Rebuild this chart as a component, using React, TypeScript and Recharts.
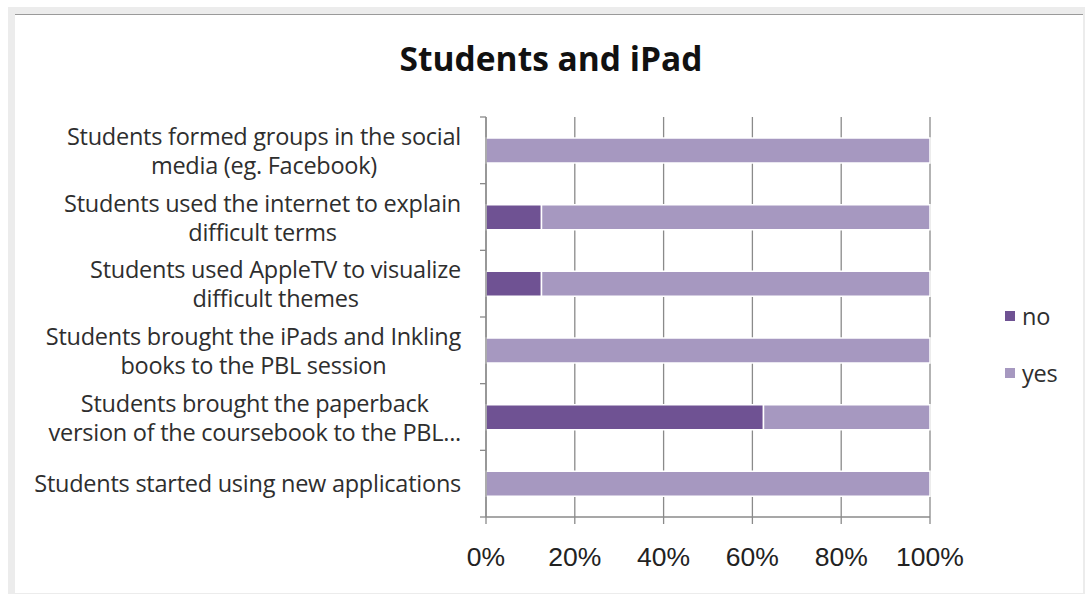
import { BarChart, Bar, XAxis, YAxis, CartesianGrid, Legend } from "recharts";

const CATEGORIES = [
  "Students formed groups in the social\nmedia (eg. Facebook)",
  "Students used the internet to explain\ndifficult terms",
  "Students used AppleTV to visualize\ndifficult themes",
  "Students brought the iPads and Inkling\nbooks to the PBL session",
  "Students brought the paperback\nversion of the coursebook to the PBL...",
  "Students started using new applications",
];
const NO_VALUES = [0, 12.5, 12.5, 0, 62.5, 0];
const YES_VALUES = [100, 87.5, 87.5, 100, 37.5, 100];
const X_TICKS = [0, 20, 40, 60, 80, 100];

const NO_COLOR = "#6f5293";
const YES_COLOR = "#a698c0";
const AXIS_COLOR = "#8a8a8a";
const LABEL_SIZE = 23.5;
const LABEL_SPACING = -0.25;
const LABEL_FONT = `${LABEL_SIZE}px 'Open Sans'`;

const W = 1085;
const H = 594;
const X_AXIS_H = 30;
const MARGIN = { top: 117, right: 155, bottom: 77 - X_AXIS_H, left: 16 };
const BAND = (H - 117 - 77) / CATEGORIES.length;

const data = CATEGORIES.map((name, i) => ({
  name,
  no: NO_VALUES[i],
  yes: YES_VALUES[i],
}));

let ctx: CanvasRenderingContext2D | null = null;
function textWidth(s: string) {
  if (!ctx) ctx = document.createElement("canvas").getContext("2d");
  if (!ctx) return s.length * 11;
  ctx.font = LABEL_FONT;
  return ctx.measureText(s).width + s.length * LABEL_SPACING;
}

function CategoryTick(props: any) {
  const { x, y, payload, index } = props;
  const lines = String(payload.value).split("\n");
  const w = Math.max(...lines.map((l) => textWidth(l)));
  const cx = x - 25 - w / 2;
  const lh = 29;
  const shift = lines.length === 1 ? 8 : 9;
  return (
    <g>
      <line x1={x - 6} x2={x} y1={y - BAND / 2} y2={y - BAND / 2} stroke={AXIS_COLOR} strokeWidth={1.3} />
      {index === CATEGORIES.length - 1 && (
        <line x1={x - 6} x2={x} y1={y + BAND / 2} y2={y + BAND / 2} stroke={AXIS_COLOR} strokeWidth={1.3} />
      )}
      {lines.map((l, i) => (
        <text
          key={i}
          x={cx}
          y={y + (i - (lines.length - 1) / 2) * lh + shift}
          textAnchor="middle"
          fill="#2e2e2e"
          style={{ font: LABEL_FONT, letterSpacing: LABEL_SPACING }}
        >
          {l}
        </text>
      ))}
    </g>
  );
}

function PercentTick(props: any) {
  const { x, y, payload } = props;
  return (
    <text
      x={x}
      y={y}
      dy={40}
      textAnchor="middle"
      fill="#222"
      style={{ fontFamily: "'Liberation Sans', Arial, sans-serif", fontSize: 26.5 }}
    >
      {payload.value}%
    </text>
  );
}

function LegendBox(props: any) {
  const items = props.payload || [];
  return (
    <div>
      {items.map((it: any) => (
        <div
          key={it.value}
          style={{
            display: "flex",
            alignItems: "center",
            height: 30,
            marginBottom: 27,
            fontFamily: "'Open Sans'",
            fontSize: LABEL_SIZE,
            letterSpacing: LABEL_SPACING,
            color: "#2e2e2e",
          }}
        >
          <span
            style={{
              display: "inline-block",
              width: 10,
              height: 10,
              background: it.color,
              marginRight: 7,
            }}
          />
          {it.value}
        </div>
      ))}
    </div>
  );
}

export default function App() {
  return (
    <div
      style={{
        position: "absolute",
        left: 0,
        top: 0,
        width: W,
        height: H,
        background: "#fff",
        overflow: "hidden",
      }}
    >
      <div
        style={{
          position: "absolute",
          left: 8,
          top: 7,
          width: W - 8,
          height: H - 7,
          background: "#ececec",
        }}
      />
      <div
        style={{
          position: "absolute",
          left: 15,
          top: 14,
          width: W - 17,
          height: H - 16,
          background: "#fff",
          borderTop: "1.5px solid #9a9a9a",
        }}
      />
      <div
        style={{
          position: "absolute",
          left: 0,
          top: 35,
          width: 1102,
          textAlign: "center",
          fontFamily: "'Open Sans'",
          fontWeight: 700,
          fontSize: 33.5,
          color: "#111",
        }}
      >
        Students and iPad
      </div>
      <div style={{ position: "absolute", left: 0, top: 0 }}>
        <BarChart width={W} height={H} data={data} layout="vertical" margin={MARGIN}>
          <CartesianGrid horizontal={false} stroke={AXIS_COLOR} strokeWidth={1.3} />
          <XAxis
            type="number"
            domain={[0, 100]}
            ticks={X_TICKS}
            interval={0}
            height={X_AXIS_H}
            tickSize={7}
            tickMargin={2}
            stroke={AXIS_COLOR}
            strokeWidth={1.3}
            tick={<PercentTick />}
          />
          <YAxis
            type="category"
            dataKey="name"
            width={470}
            tickSize={0}
            tickMargin={0}
            tickLine={false}
            stroke={AXIS_COLOR}
            strokeWidth={1.3}
            interval={0}
            tick={<CategoryTick />}
          />
          <Legend
            layout="horizontal"
            verticalAlign="middle"
            align="center"
            content={<LegendBox />}
            wrapperStyle={{ left: 1005, top: 301, width: 80 }}
          />
          <Bar
            dataKey="no"
            name="no"
            stackId="s"
            fill={NO_COLOR}
            stroke="#fff"
            strokeWidth={1.5}
            barSize={25}
            isAnimationActive={false}
          />
          <Bar
            dataKey="yes"
            name="yes"
            stackId="s"
            fill={YES_COLOR}
            stroke="#fff"
            strokeWidth={1.5}
            barSize={25}
            isAnimationActive={false}
          />
        </BarChart>
      </div>
    </div>
  );
}
